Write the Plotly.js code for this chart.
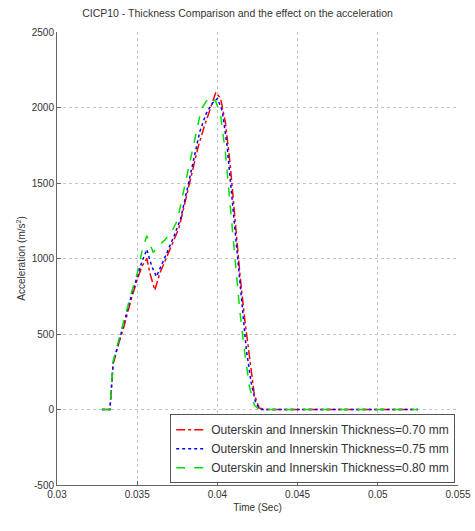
<!DOCTYPE html>
<html>
<head>
<meta charset="utf-8">
<script src="https://cdn.plot.ly/plotly-3.0.1.min.js"></script>
<style>
  html, body { margin: 0; padding: 0; background: #fff; }
  #chart { width: 475px; height: 531px; }
</style>
</head>
<body>
<div id="chart"></div>
<script>
// Time samples (s) and acceleration (m/s^2) for each skin thickness
const time070 = [0.0328, 0.0333, 0.0335, 0.0338, 0.0342, 0.0346, 0.0350, 0.0353, 0.0356, 0.0358, 0.0361, 0.0364, 0.0368, 0.0372, 0.0376, 0.0380, 0.0384, 0.0388, 0.0392, 0.0395, 0.0399, 0.0402, 0.0405, 0.0408, 0.0411, 0.0414, 0.0417, 0.0420, 0.0423, 0.0426, 0.0430, 0.0525];
const acc070  = [0, 0, 300, 420, 560, 720, 860, 950, 1000, 900, 790, 900, 1000, 1100, 1200, 1380, 1560, 1740, 1880, 1980, 2100, 2060, 1900, 1620, 1250, 900, 600, 330, 100, 10, 0, 0];

const time075 = [0.0328, 0.0333, 0.0335, 0.0338, 0.0342, 0.0346, 0.0350, 0.0353, 0.0356, 0.0359, 0.0362, 0.0365, 0.0369, 0.0373, 0.0377, 0.0381, 0.0385, 0.0389, 0.0393, 0.0397, 0.0400, 0.0403, 0.0406, 0.0409, 0.0412, 0.0415, 0.0418, 0.0421, 0.0424, 0.0427, 0.0525];
const acc075  = [0, 0, 310, 430, 580, 740, 880, 980, 1060, 950, 880, 950, 1050, 1150, 1260, 1450, 1650, 1840, 1960, 2030, 2060, 1980, 1750, 1400, 1050, 700, 400, 180, 40, 0, 0];

const time080 = [0.0328, 0.0333, 0.0335, 0.0338, 0.0342, 0.0346, 0.0350, 0.0353, 0.0356, 0.0358, 0.0360, 0.0363, 0.0367, 0.0371, 0.0375, 0.0379, 0.0383, 0.0387, 0.0390, 0.0393, 0.0396, 0.0399, 0.0402, 0.0405, 0.0408, 0.0411, 0.0414, 0.0417, 0.0420, 0.0423, 0.0426, 0.0525];
const acc080  = [0, 0, 320, 440, 600, 760, 900, 1050, 1150, 1100, 1040, 1080, 1120, 1170, 1250, 1450, 1650, 1850, 1990, 2040, 2070, 2040, 1950, 1700, 1350, 1000, 650, 380, 150, 30, 0, 0];

const seriesNames = [
  'Outerskin and Innerskin Thickness=0.70 mm',
  'Outerskin and Innerskin Thickness=0.75 mm',
  'Outerskin and Innerskin Thickness=0.80 mm'
];

const xTicks = [0.03, 0.035, 0.04, 0.045, 0.05, 0.055];
const xTickText = ['0.03', '0.035', '0.04', '0.045', '0.05', '0.055'];
const yTicks = [-500, 0, 500, 1000, 1500, 2000, 2500];
const yTickText = ['-500', '0', '500', '1000', '1500', '2000', '2500'];

const traces = [
  { x: time070, y: acc070, name: seriesNames[0], mode: 'lines',
    line: { color: '#ff0000', width: 1.5, dash: 'dashdot' } },
  { x: time075, y: acc075, name: seriesNames[1], mode: 'lines',
    line: { color: '#0000ff', width: 1.5, dash: 'dot' } },
  { x: time080, y: acc080, name: seriesNames[2], mode: 'lines',
    line: { color: '#00e000', width: 1.5, dash: 'dash' } }
];

const fontFam = 'Liberation Sans, Arial, sans-serif';

const layout = {
  width: 475, height: 531,
  margin: { l: 57, r: 17, t: 32, b: 46 },
  paper_bgcolor: '#ffffff',
  plot_bgcolor: '#ffffff',
  font: { family: fontFam, size: 10, color: '#333' },
  title: { text: 'CICP10 - Thickness Comparison and the effect on the acceleration',
           font: { family: fontFam, size: 10.5, color: '#333' },
           x: 0.5, xanchor: 'center', y: 0.975, yanchor: 'middle' },
  xaxis: {
    range: [0.03, 0.055],
    tickvals: xTicks, ticktext: xTickText,
    ticks: 'inside', ticklen: 4, tickcolor: '#666',
    showline: true, linecolor: '#666', linewidth: 1,
    showgrid: true, gridcolor: '#c4c4c4', griddash: 'dot', gridwidth: 1,
    zeroline: false,
    title: { text: 'Time (Sec)', font: { family: fontFam, size: 10, color: '#333' }, standoff: 4 }
  },
  yaxis: {
    range: [-500, 2500],
    tickvals: yTicks, ticktext: yTickText,
    ticks: 'inside', ticklen: 4, tickcolor: '#666',
    showline: true, linecolor: '#666', linewidth: 1,
    showgrid: true, gridcolor: '#c4c4c4', griddash: 'dot', gridwidth: 1,
    zeroline: false,
    title: { text: 'Acceleration (m/s<sup>2</sup>)', font: { family: fontFam, size: 10, color: '#333' }, standoff: 4 }
  },
  legend: {
    x: 0.993, y: 0.004, xanchor: 'right', yanchor: 'bottom',
    bgcolor: '#ffffff', bordercolor: '#555', borderwidth: 1,
    font: { family: fontFam, size: 12, color: '#333' },
    tracegroupgap: 0, itemwidth: 30
  },
  showlegend: true
};

Plotly.newPlot('chart', traces, layout, { staticPlot: true, displayModeBar: false });
</script>
</body>
</html>
